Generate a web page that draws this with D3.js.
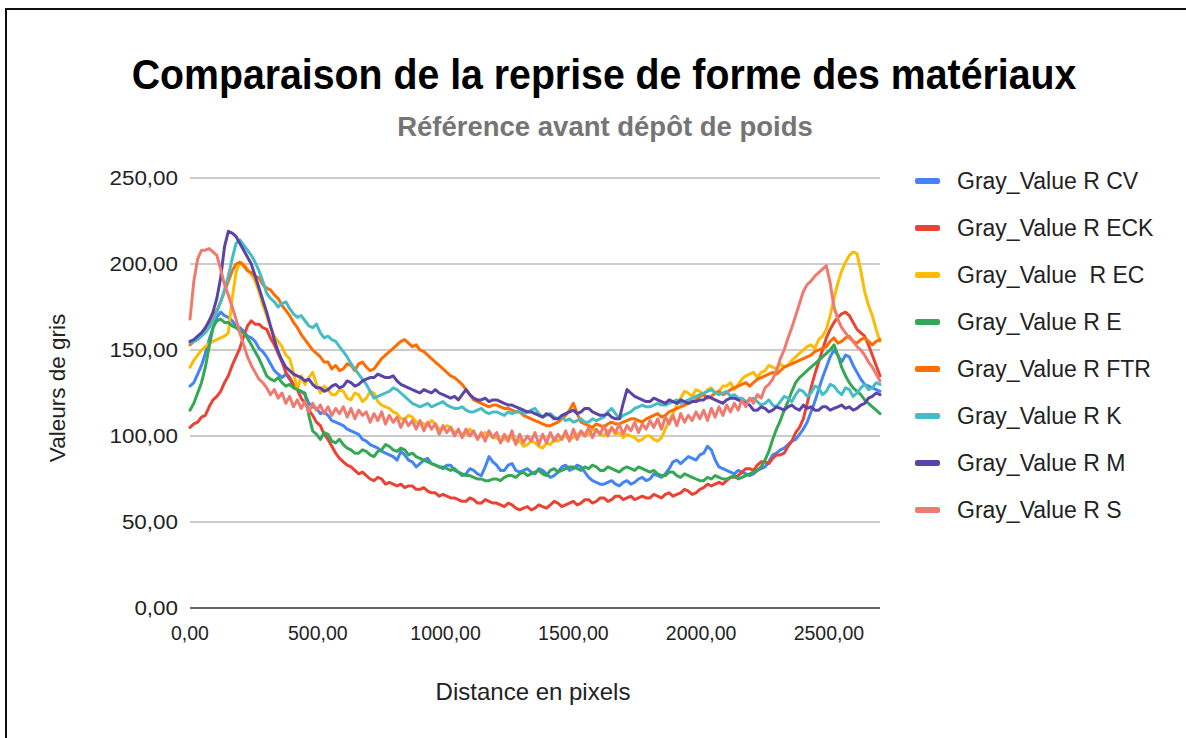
<!DOCTYPE html>
<html><head><meta charset="utf-8">
<script src="https://cdn.jsdelivr.net/npm/d3@7"></script>
<style>body{margin:0;background:#fff} text{font-family:"Liberation Sans",Arial,sans-serif}</style>
</head><body><svg id="c" width="1186" height="738"></svg>
<script>
// distance in pixels (x), one sample every 15 px of distance
const distances = [0,15,30,45,60,75,90,105,120,135,150,165,180,195,210,225,240,255,270,285,
300,315,330,345,360,375,390,405,420,435,450,465,480,495,510,525,540,555,570,585,
600,615,630,645,660,675,690,705,720,735,750,765,780,795,810,825,840,855,870,885,
900,915,930,945,960,975,990,1005,1020,1035,1050,1065,1080,1095,1110,1125,1140,1155,1170,1185,
1200,1215,1230,1245,1260,1275,1290,1305,1320,1335,1350,1365,1380,1395,1410,1425,1440,1455,1470,1485,
1500,1515,1530,1545,1560,1575,1590,1605,1620,1635,1650,1665,1680,1695,1710,1725,1740,1755,1770,1785,
1800,1815,1830,1845,1860,1875,1890,1905,1920,1935,1950,1965,1980,1995,2010,2025,2040,2055,2070,2085,
2100,2115,2130,2145,2160,2175,2190,2205,2220,2235,2250,2265,2280,2295,2310,2325,2340,2355,2370,2385,
2400,2415,2430,2445,2460,2475,2490,2505,2520,2535,2550,2565,2580,2595,2610,2625,2640,2655,2670,2685,
2700];

const seriesNames = ["Gray_Value R CV","Gray_Value R ECK","Gray_Value  R EC","Gray_Value R E","Gray_Value R FTR","Gray_Value R K","Gray_Value R M","Gray_Value R S"];
const seriesColors = ["#4285F4","#EA4335","#FBBC04","#34A853","#FF6D01","#46BDC6","#5B44A8","#EE7A70"];

const valuesCV = [129,131,136,141,148,156,163,169,172,170,169,167,164,163,161,158,157,155,151,149,
146,142,138,136,134,136,133,129,127,126,124,119,117,116,113,114,112,109,108,107,
106,104,103,102,101,98,97,95,94,93,91,90,89,88,86,91,89,86,85,82,
84,86,87,84,83,82,81,83,83,80,79,77,78,81,80,78,77,82,88,85,
83,80,80,83,84,80,79,80,81,79,78,81,80,78,76,77,79,82,83,80,
81,83,82,79,76,74,73,72,72,73,74,72,71,73,74,72,73,75,76,74,
75,78,77,76,78,81,85,86,84,86,88,87,86,89,90,94,92,86,82,81,
80,79,78,80,79,78,77,78,80,81,82,85,89,90,92,93,95,97,98,101,
104,108,114,120,127,134,140,146,150,147,143,147,146,141,137,133,130,129,128,127,
126];
const valuesECK = [105,107,108,111,112,117,121,123,126,131,135,141,146,151,158,164,167,165,165,163,
162,157,153,148,143,137,134,130,127,122,119,115,112,108,106,101,98,94,90,87,
85,83,82,80,78,79,77,75,74,76,75,72,73,72,71,72,70,71,71,69,
69,70,68,67,67,65,66,65,64,64,63,62,62,64,63,61,61,63,62,61,
61,60,59,61,60,58,57,58,59,57,58,60,59,58,60,62,61,59,60,61,
62,60,61,63,63,61,62,64,64,62,63,65,65,63,64,65,63,64,65,64,
64,66,65,64,66,67,65,66,67,69,68,66,67,69,70,72,71,72,73,72,
74,76,76,77,79,81,81,80,83,85,85,84,87,89,89,90,94,97,102,105,
110,119,128,136,143,150,157,162,166,169,171,172,170,166,162,160,158,153,147,141,
135];
const valuesEC = [140,144,147,150,152,154,155,156,157,158,160,180,195,201,200,197,194,190,184,176,
170,163,158,155,152,147,145,137,127,135,130,134,137,130,125,129,127,124,124,127,
126,122,121,125,124,120,122,126,125,120,118,117,116,114,113,110,110,112,111,108,
108,107,106,109,107,104,104,106,105,102,103,101,101,104,102,99,100,102,101,99,
99,97,98,100,99,96,97,94,95,97,96,94,93,96,95,98,97,99,100,98,
99,101,102,100,101,104,103,101,100,103,104,101,102,99,101,100,99,97,98,100,
100,98,97,99,104,109,113,118,122,126,125,123,127,126,124,127,128,125,126,129,
129,131,127,130,133,135,136,137,134,137,138,141,140,139,142,140,141,144,146,148,
150,152,153,151,156,158,162,170,180,189,196,201,205,207,206,196,184,176,170,162,
155];
const valuesE = [115,119,125,131,140,152,163,167,168,166,166,164,163,161,160,157,153,149,145,140,
135,133,132,134,131,129,130,128,127,126,125,112,103,101,98,102,101,97,96,98,
95,93,92,90,90,92,91,89,88,91,92,95,94,92,91,93,92,89,90,88,
87,86,85,84,83,82,82,81,80,81,79,78,77,77,76,75,75,74,74,75,
75,74,76,77,77,76,78,79,77,78,79,80,78,77,80,81,79,80,81,82,
82,81,80,82,81,83,82,80,80,82,81,80,79,81,82,81,80,82,81,80,
79,80,78,77,77,79,79,77,76,78,77,76,75,74,74,76,75,77,76,75,
75,76,77,75,76,77,78,79,80,82,86,91,98,104,109,115,120,126,131,134,
136,138,140,142,144,146,148,150,153,147,140,135,131,128,126,124,121,119,117,115,
113];
const valuesFTR = [153,155,157,160,162,166,169,173,178,184,190,196,200,201,199,196,195,193,192,188,
186,185,182,180,176,173,170,166,163,159,156,153,150,148,146,143,143,139,141,138,
139,142,141,138,142,143,140,138,139,142,145,147,149,151,153,155,156,154,152,153,
150,149,147,145,143,141,139,137,135,134,132,130,127,124,121,120,119,118,117,118,
118,117,116,116,115,114,114,112,111,110,109,108,107,106,106,107,108,110,112,115,
119,113,108,107,106,105,107,106,105,107,108,107,107,108,109,110,110,109,108,110,
111,112,113,111,112,114,115,116,117,118,119,120,121,123,124,122,123,125,126,124,
125,127,128,129,130,131,129,131,133,134,135,136,137,136,138,140,141,142,143,144,
145,146,147,149,150,151,152,155,157,154,155,157,158,155,154,156,157,155,153,155,
156];
const valuesK = [154,155,156,158,160,163,167,172,178,185,193,203,212,214,211,208,205,201,196,190,
183,180,178,175,177,178,174,171,169,170,167,164,163,165,160,157,158,156,155,152,
149,146,142,139,136,133,130,126,122,123,124,125,126,128,127,125,123,121,119,118,
117,118,119,117,118,119,120,118,117,116,116,117,115,114,114,115,116,114,113,114,
114,113,112,114,113,114,115,113,114,115,116,113,111,112,113,111,110,111,109,110,
108,109,110,108,108,110,109,110,111,114,116,113,110,112,113,114,116,117,118,117,
117,118,119,118,118,119,120,121,119,120,121,122,123,124,125,126,127,125,124,125,
126,123,124,122,122,120,121,122,120,118,119,121,118,117,120,123,122,120,124,127,
126,123,125,129,128,124,126,130,129,126,124,128,127,123,125,128,130,127,128,131,
130];
const valuesM = [155,156,158,160,163,167,172,180,192,210,219,218,216,212,208,204,200,193,186,179,
172,164,156,149,144,140,138,136,135,134,132,133,130,128,128,126,127,129,130,128,
129,132,131,129,130,132,133,134,134,136,135,134,134,135,132,130,129,128,127,126,
125,127,126,125,127,125,124,123,122,123,121,124,127,124,122,121,121,122,120,121,
121,120,119,118,118,117,116,115,114,114,113,112,111,113,112,110,110,112,113,114,
115,113,114,116,116,114,113,112,112,113,111,110,110,119,127,125,123,122,121,120,
120,122,121,120,119,121,120,119,121,120,119,120,120,121,121,123,122,121,120,119,
121,122,122,121,120,119,118,115,115,117,116,114,115,117,116,115,117,118,116,115,
118,116,117,115,115,117,117,115,116,117,118,116,117,115,116,118,119,122,123,125,
124];
const valuesS = [168,190,203,208,208,209,207,205,197,188,182,175,168,160,153,146,141,137,133,131,
128,124,127,122,125,119,123,117,121,116,120,114,119,115,118,113,117,112,116,113,
117,111,116,110,115,112,114,108,113,109,114,107,112,108,111,105,110,106,109,104,
109,103,108,104,107,101,106,102,105,100,104,99,104,100,103,98,102,97,103,99,
102,96,101,97,103,95,101,96,100,97,102,95,101,96,102,97,101,98,103,97,
104,98,103,100,105,99,104,101,106,100,105,102,107,101,106,103,108,102,107,104,
109,105,110,104,111,107,112,106,113,108,112,109,114,110,115,109,116,111,117,112,
118,114,119,115,121,117,122,119,124,122,128,130,133,138,145,150,157,163,170,177,
184,188,190,193,195,197,199,189,175,168,163,160,157,155,152,150,147,143,140,136,
132];

const yTicks = [0,50,100,150,200,250];
const yTickLabels = ["0,00","50,00","100,00","150,00","200,00","250,00"];
const xTicks = [0,500,1000,1500,2000,2500];
const xTickLabels = ["0,00","500,00","1000,00","1500,00","2000,00","2500,00"];

const allValues = [valuesCV,valuesECK,valuesEC,valuesE,valuesFTR,valuesK,valuesM,valuesS];

const svg = d3.select("#c");
svg.append("rect").attr("width",1186).attr("height",738).attr("fill","#fff");
// frame
svg.append("line").attr("x1",6).attr("x2",1186).attr("y1",9).attr("y2",9).attr("stroke","#111").attr("stroke-width",2);
svg.append("line").attr("x1",6).attr("x2",6).attr("y1",8).attr("y2",738).attr("stroke","#111").attr("stroke-width",2);

const x = d3.scaleLinear().domain([0,2700]).range([190,880]);
const y = d3.scaleLinear().domain([0,250]).range([608,178]);

// gridlines
svg.append("g").selectAll("line").data(yTicks.filter(d=>d>0)).join("line")
  .attr("x1",190).attr("x2",880).attr("y1",d=>y(d)).attr("y2",d=>y(d))
  .attr("stroke","#cccccc").attr("stroke-width",2);
svg.append("line").attr("x1",190).attr("x2",880).attr("y1",y(0)).attr("y2",y(0)).attr("stroke","#333").attr("stroke-width",1.5);

// y labels
svg.append("g").selectAll("text").data(yTicks).join("text")
  .attr("transform",d=>`translate(178,${y(d)+7}) scale(1.15,1)`)
  .attr("text-anchor","end").attr("font-size",19.5).attr("fill","#222")
  .text((d,i)=>yTickLabels[i]);
// x labels
svg.append("g").selectAll("text").data(xTicks).join("text")
  .attr("x",d=>x(d)).attr("y",640).attr("text-anchor","middle").attr("font-size",19.5).attr("fill","#222")
  .text((d,i)=>xTickLabels[i]);

// lines
const line = d3.line().x((d,i)=>x(distances[i])).y(d=>y(d));
svg.append("g").selectAll("path").data(allValues).join("path")
  .attr("d",line).attr("fill","none").attr("stroke",(d,i)=>seriesColors[i])
  .attr("stroke-width",3).attr("stroke-linejoin","round").attr("stroke-linecap","round");

// titles
svg.append("text").attr("transform","translate(604,89) scale(0.935,1)").attr("text-anchor","middle").attr("font-size",42).attr("font-weight","bold").attr("fill","#000")
  .text("Comparaison de la reprise de forme des matériaux");
svg.append("text").attr("x",605).attr("y",136).attr("text-anchor","middle").attr("font-size",27.5).attr("font-weight","bold").attr("fill","#757575")
  .text("Référence avant dépôt de poids");
svg.append("text").attr("x",533).attr("y",700).attr("text-anchor","middle").attr("font-size",24).attr("fill","#222")
  .text("Distance en pixels");
svg.append("text").attr("transform","translate(65,388) rotate(-90)").attr("text-anchor","middle").attr("font-size",22.5).attr("fill","#222")
  .text("Valeurs de gris");

// legend
const lg = svg.append("g").selectAll("g").data(seriesNames).join("g")
  .attr("transform",(d,i)=>`translate(915,${181+i*47})`);
lg.append("rect").attr("x",0).attr("y",-3).attr("width",25).attr("height",6).attr("rx",2).attr("fill",(d,i)=>seriesColors[i]);
lg.append("text").attr("x",42).attr("y",8).attr("font-size",23).attr("fill","#222").style("white-space","pre").text(d=>d);
</script></body></html>
